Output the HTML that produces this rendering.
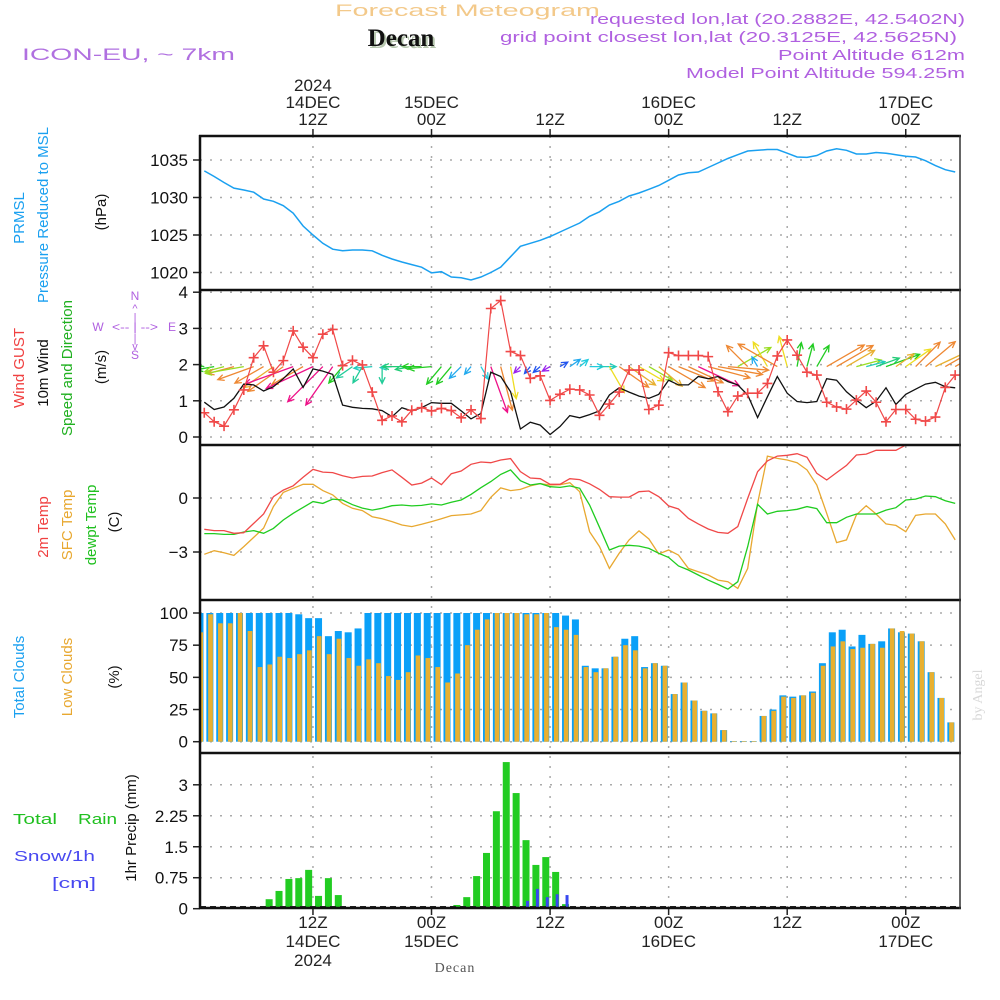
<!DOCTYPE html>
<html><head><meta charset="utf-8"><title>Forecast Meteogram - Decan</title>
<style>
html,body{margin:0;padding:0;background:#fff;}
svg{display:block;font-family:"Liberation Sans",sans-serif;}
</style></head>
<body>
<svg id="chart" width="1000" height="1000" viewBox="0 0 1000 1000" xmlns="http://www.w3.org/2000/svg">
<defs>
<clipPath id="cp"><rect x="200" y="136" width="760" height="154"/></clipPath>
<clipPath id="cw"><rect x="200" y="290" width="760" height="155"/></clipPath>
<clipPath id="ct"><rect x="200" y="445" width="760" height="155"/></clipPath>
<clipPath id="cc"><rect x="200" y="600" width="760" height="153"/></clipPath>
<clipPath id="cr"><rect x="200" y="753" width="760" height="155"/></clipPath>
</defs>
<!-- header -->
<text x="335" y="16" textLength="265" lengthAdjust="spacingAndGlyphs" font-size="17" fill="#f3c98a">Forecast Meteogram</text>
<text x="403" y="48" text-anchor="middle" font-family="Liberation Serif, serif" font-weight="bold" font-size="25" fill="#b8c8b0">Decan</text>
<text x="401" y="46" text-anchor="middle" font-family="Liberation Serif, serif" font-weight="bold" font-size="25" fill="#111">Decan</text>
<text x="22" y="60" textLength="213" lengthAdjust="spacingAndGlyphs" font-size="17" fill="#b070e0">ICON-EU, ~ 7km</text>
<text x="590" y="24" textLength="375" lengthAdjust="spacingAndGlyphs" font-size="15" fill="#b060e0">requested lon,lat (20.2882E, 42.5402N)</text>
<text x="500" y="42" textLength="457" lengthAdjust="spacingAndGlyphs" font-size="15" fill="#b060e0">grid point closest lon,lat (20.3125E, 42.5625N)</text>
<text x="778" y="60" textLength="187" lengthAdjust="spacingAndGlyphs" font-size="15" fill="#b060e0">Point Altitude 612m</text>
<text x="686" y="78" textLength="279" lengthAdjust="spacingAndGlyphs" font-size="15" fill="#b060e0">Model Point Altitude 594.25m</text>

<!-- left labels -->
<g font-size="15">
<text transform="translate(24,218) rotate(-90)" text-anchor="middle" fill="#1aa0f0">PRMSL</text>
<text transform="translate(48,215) rotate(-90)" text-anchor="middle" fill="#1aa0f0">Pressure Reduced to MSL</text>
<text transform="translate(106,212) rotate(-90)" text-anchor="middle" fill="#111">(hPa)</text>
<text transform="translate(24,368) rotate(-90)" text-anchor="middle" fill="#f04040">Wind GUST</text>
<text transform="translate(48,373) rotate(-90)" text-anchor="middle" fill="#111">10m Wind</text>
<text transform="translate(72,368) rotate(-90)" text-anchor="middle" fill="#20b020">Speed and Direction</text>
<text transform="translate(106,367) rotate(-90)" text-anchor="middle" fill="#111">(m/s)</text>
<text transform="translate(48,527) rotate(-90)" text-anchor="middle" fill="#f04040">2m Temp</text>
<text transform="translate(72,525) rotate(-90)" text-anchor="middle" fill="#e8a830">SFC Temp</text>
<text transform="translate(96,525) rotate(-90)" text-anchor="middle" fill="#20c020">dewpt Temp</text>
<text transform="translate(119,522) rotate(-90)" text-anchor="middle" fill="#111">(C)</text>
<text transform="translate(24,677) rotate(-90)" text-anchor="middle" fill="#1aa0f0">Total Clouds</text>
<text transform="translate(72,677) rotate(-90)" text-anchor="middle" fill="#e8a830">Low Clouds</text>
<text transform="translate(119,677) rotate(-90)" text-anchor="middle" fill="#111">(%)</text>
<text transform="translate(136,828) rotate(-90)" text-anchor="middle" fill="#111">1hr Precip (mm)</text>
</g>
<text x="13" y="824" textLength="44" lengthAdjust="spacingAndGlyphs" font-size="15" fill="#20c020">Total</text>
<text x="78" y="824" textLength="39" lengthAdjust="spacingAndGlyphs" font-size="15" fill="#20c020">Rain</text>
<text x="14" y="861" textLength="81" lengthAdjust="spacingAndGlyphs" font-size="15" fill="#4848f0">Snow/1h</text>
<text x="52" y="888" textLength="44" lengthAdjust="spacingAndGlyphs" font-size="15" fill="#4848f0">[cm]</text>
<g fill="#b060e0" stroke="none" font-size="12">
<text x="135" y="300" text-anchor="middle">N</text>
<text x="135" y="359" text-anchor="middle">S</text>
<text x="98" y="331" text-anchor="middle">W</text>
<text x="172" y="331" text-anchor="middle">E</text>
<text x="112" y="331" textLength="46" lengthAdjust="spacingAndGlyphs" font-size="12">&lt;-- | --&gt;</text>
<text x="135" y="312" text-anchor="middle" font-size="11">^</text>
<text x="135" y="321" text-anchor="middle" font-size="11">|</text>
<text x="135" y="342" text-anchor="middle" font-size="11">|</text>
<text x="135" y="350" text-anchor="middle" font-size="11">v</text>
</g>
<text transform="translate(982,695) rotate(-90)" text-anchor="middle" font-family="Liberation Serif, serif" font-size="14" fill="#d8d8d8">by Angel</text>
<text x="455" y="972" text-anchor="middle" font-family="Liberation Serif, serif" font-size="14" fill="#555" letter-spacing="1">Decan</text>

<g id="grid"></g>
<g id="data"></g>
<g id="frame"></g>
</svg>
<script>
// ---- data (hourly from h=1, hours since 00Z 14 DEC 2024) ----
var pressure = [1033.55,1032.8,1032.0,1031.26,1031.0,1030.7,1029.8,1029.5,1028.9,1027.9,1026.2,1025.0,1023.9,1023.1,1022.9,1023.0,1023.0,1022.9,1022.3,1021.8,1021.4,1021.05,1020.7,1019.95,1020.1,1019.4,1019.3,1019.0,1019.4,1020.0,1020.7,1022.1,1023.5,1023.9,1024.3,1024.8,1025.4,1026.0,1026.6,1027.5,1028.1,1029.0,1029.5,1030.2,1030.6,1031.1,1031.6,1032.3,1033.0,1033.3,1033.4,1034.0,1034.6,1035.2,1035.7,1036.2,1036.3,1036.4,1036.4,1035.9,1035.4,1035.35,1035.6,1036.2,1036.5,1036.3,1035.8,1035.8,1036.0,1035.9,1035.7,1035.5,1035.4,1034.9,1034.25,1033.7,1033.4];
var windGust = [0.67,0.42,0.30,0.75,1.30,2.19,2.52,1.79,2.11,2.93,2.48,2.19,2.84,2.97,1.97,2.12,1.99,1.24,0.46,0.58,0.42,0.74,0.81,0.72,0.79,0.73,0.53,0.75,0.51,3.55,3.77,2.36,2.25,1.62,1.69,1.01,1.18,1.32,1.30,1.16,0.60,0.91,1.24,1.85,1.85,0.76,0.88,2.33,2.25,2.25,2.25,2.22,1.25,0.70,1.13,1.21,1.21,1.48,2.24,2.68,2.26,1.79,1.71,0.96,0.83,0.77,1.02,1.27,0.96,0.42,0.76,0.76,0.49,0.44,0.55,1.37,1.71];
var wind10m = [0.96,0.76,0.83,1.07,1.46,1.44,1.27,1.39,1.61,1.88,1.37,1.88,1.82,1.73,0.88,0.82,0.79,0.78,0.73,0.56,0.81,0.72,0.81,0.95,0.93,0.93,0.72,0.50,0.65,1.79,1.67,1.25,0.22,0.41,0.33,0.07,0.29,0.59,0.53,0.62,0.72,1.16,1.36,1.24,1.13,1.07,1.18,1.57,1.44,1.44,1.67,1.61,1.67,1.53,1.44,1.16,0.54,1.11,1.67,1.21,0.98,0.95,0.98,1.61,1.57,1.25,1.02,0.81,0.99,1.36,0.90,1.18,1.32,1.46,1.51,1.39,1.36];
var windBearing = [280,260,255,255,260,250,240,235,235,250,240,245,225,215,220,235,210,265,180,265,270,260,270,265,220,220,225,220,150,160,165,170,225,220,230,240,60,55,50,90,90,150,125,125,120,120,130,120,112,115,115,105,100,95,60,315,330,330,300,345,10,15,30,60,60,60,75,75,70,70,55,55,45,50,65,60,60];
var windColor = ['#22cc22','#22cc22','#99dd22','#ee8833','#99dd22','#ee8833','#ee8833','#e8b030','#ee8833','#ee1188','#ee8833','#ee1188','#ee1188','#ee1188','#22cc22','#22cc99','#22cc99','#22ccbb','#22cc99','#22ccbb','#22cc77','#22cc77','#22cc22','#22cc22','#22cc22','#22cc22','#22aaee','#22aaee','#22ccdd','#ee1188','#ee8833','#eedd22','#9922ee','#2255ee','#2255ee','#9922ee','#2255ee','#22aaee','#22ccdd','#22ccdd','#22ccbb','#eedd22','#ee8833','#e8b030','#eedd22','#99dd22','#e8b030','#ee8833','#ee8833','#ee8833','#ee1188','#ee8833','#ee8833','#ee8833','#99dd22','#ee8833','#22aaee','#eedd22','#ee8833','#eedd22','#22cc22','#22cc22','#22cc22','#ee8833','#ee8833','#e8b030','#99dd22','#22ccbb','#22cc77','#22cc22','#e8b030','#eedd22','#ee8833','#ee8833','#e8b030','#ee8833','#ee8833'];
var temp2m = [-1.74,-1.81,-1.81,-1.96,-1.93,-1.41,-0.89,0.07,0.44,0.68,1.15,1.59,1.44,1.41,1.24,1.11,1.2,1.22,1.41,1.56,1.15,0.72,0.83,1.11,0.74,1.35,1.5,1.87,2.0,1.96,2.11,2.19,1.46,1.11,1.07,0.76,0.76,1.07,1.02,0.79,0.48,0.07,0.05,0.05,0.35,0.39,0.07,-0.44,-0.61,-1.13,-1.44,-1.72,-1.91,-1.96,-1.59,-0.02,1.46,2.06,2.33,2.37,2.46,2.26,1.37,1.0,1.41,1.81,2.39,2.44,2.65,2.65,2.65,2.94,3.1,3.15,3.2,3.2,3.25];
var tempSfc = [-3.13,-2.93,-3.04,-3.19,-2.70,-2.19,-1.67,-0.48,0.31,0.54,0.76,0.76,0.41,0.17,-0.30,-0.57,-0.70,-1.04,-1.15,-1.31,-1.50,-1.59,-1.46,-1.31,-1.15,-0.98,-0.94,-0.89,-0.70,0.04,0.56,0.41,0.48,0.67,0.80,0.72,0.74,0.85,0.35,-1.87,-2.70,-3.91,-3.07,-2.33,-1.83,-2.28,-3.11,-2.89,-3.17,-3.91,-4.1,-4.28,-4.56,-4.65,-5.02,-3.91,-0.30,2.33,2.2,2.11,1.96,1.56,0.72,-0.85,-2.48,-2.33,-0.94,-0.43,-0.89,-1.44,-1.52,-1.87,-0.96,-0.89,-0.89,-1.44,-2.33];
var dewpoint = [-1.98,-1.98,-2.02,-2.02,-1.89,-1.81,-1.96,-1.69,-1.22,-0.85,-0.52,-0.20,-0.30,-0.06,-0.11,-0.37,-0.56,-0.67,-0.57,-0.43,-0.39,-0.44,-0.41,-0.33,-0.39,-0.24,-0.11,0.20,0.57,0.91,1.31,1.56,0.96,0.72,0.80,0.63,0.59,0.67,0.54,-0.39,-1.63,-2.89,-2.67,-2.63,-2.67,-2.80,-3.07,-3.30,-3.78,-4.0,-4.28,-4.56,-4.80,-5.06,-4.65,-2.70,-0.35,-0.89,-0.74,-0.70,-0.63,-0.48,-0.59,-1.37,-1.37,-1.07,-0.89,-0.89,-0.89,-0.67,-0.54,-0.11,-0.06,0.11,0.07,-0.15,-0.30];
var totalClouds = [100,100,100,100,100,100,100,100,100,100,99,96,96,82,86,85,88,100,100,100,100,100,100,100,100,100,100,100,100,100,100,100,100,100,100,100,100,98,95,59,57,57,66,80,82,58,61,59,37,46,32,24,22,9,0.5,0.5,0.5,20,25,36,35,36,39,61,85,87,74,83,76,78,88,85,84,78,54,34,15];
var lowClouds = [85,99,92,92,100,86,58,60,66,65,68,71,82,68,80,65,59,64,61,51,48,54,67,65,58,46,53,75,87,95,100,100,100,99,99,100,89,87,83,58,54,57,66,75,71,57,61,59,37,46,32,24,22,9,0.5,0.5,0.5,20,24,35,34,36,38,59,74,78,72,73,76,73,88,86,84,78,54,34,15];
var rain = [0,0,0,0,0,0,0,0.23,0.43,0.72,0.74,0.94,0.31,0.74,0.33,0,0,0,0,0,0,0,0,0,0,0,0.09,0.28,0.79,1.35,2.36,3.55,2.8,1.66,1.06,1.25,0.89,0.11,0,0,0,0,0,0,0,0,0,0,0,0,0,0,0,0,0,0,0,0,0,0,0,0,0,0,0,0,0,0,0,0,0,0,0,0,0,0,0];
var snow = [0,0,0,0,0,0,0,0,0,0,0,0,0,0,0,0,0,0,0,0,0,0,0,0,0,0,0,0,0,0,0,0,0,0.19,0.48,0.28,0.35,0.33,0,0,0,0,0,0,0,0,0,0,0,0,0,0,0,0,0,0,0,0,0,0,0,0,0,0,0,0,0,0,0,0,0,0,0,0,0,0,0];
var pressureTicks = [1035,1030,1025,1020];
var windTicks = [0,1,2,3,4];
var tempTicks = [0,-3];
var cloudTicks = [0,25,50,75,100];
var precipTicks = ['0','0.75','1.5','2.25','3'];
var timeHours = [12,24,36,48,60,72];
var topLabels = [['2024','14DEC','12Z'],['15DEC','00Z'],['12Z'],['16DEC','00Z'],['12Z'],['17DEC','00Z']];
var bottomLabels = [['12Z','14DEC','2024'],['00Z','15DEC'],['12Z'],['00Z','16DEC'],['12Z'],['00Z','17DEC']];

// ---- scales ----
function xH(h){return 194.4+9.88*h;}
function yP(v){return 160+(1035-v)*7.5;}
function yW(v){return 437-v*36.2;}
function yT(v){return 498-v*18;}
function yC(v){return 741.7-v*1.287;}
function yR(v){return 908.7-v*41.3;}

var NS='http://www.w3.org/2000/svg';
function mk(parent,tag,attrs){var e=document.createElementNS(NS,tag);for(var k in attrs)e.setAttribute(k,attrs[k]);parent.appendChild(e);return e;}
var grid=document.getElementById('grid'), data=document.getElementById('data'), frame=document.getElementById('frame');

// grid
function hgrid(y,name){var l=mk(grid,'line',{x1:200,x2:960,y1:y,y2:y,stroke:'#aaa','stroke-width':1.5,'stroke-dasharray':'2,8'});

}
function ytick(y,label,name){
var t=mk(frame,'line',{x1:193,x2:200,y1:y,y2:y,stroke:'#222','stroke-width':1.5});


var tx=mk(frame,'text',{x:188,y:y+6,'text-anchor':'end','font-size':17,fill:'#111'});tx.textContent=label;

}
pressureTicks.forEach(function(v){hgrid(yP(v),'pressure-gridline');ytick(yP(v),String(v),'pressure-axis');});
windTicks.forEach(function(v){hgrid(yW(v),'wind-gridline');ytick(yW(v),String(v),'wind-axis');});
tempTicks.forEach(function(v){hgrid(yT(v),'temp-gridline');ytick(yT(v),v<0?'\u2212'+Math.abs(v):String(v),'temp-axis');});
cloudTicks.forEach(function(v){hgrid(yC(v),'cloud-gridline');ytick(yC(v),String(v),'cloud-axis');});
precipTicks.forEach(function(s){var v=parseFloat(s);if(v>0)hgrid(yR(v),'precip-gridline');ytick(yR(v),s,'precip-axis');});
timeHours.forEach(function(h,i){
var x=xH(h);
var g=mk(grid,'line',{x1:x,x2:x,y1:136,y2:908,stroke:'#aaa','stroke-width':1.5,'stroke-dasharray':'2,8'});


var t1=mk(frame,'line',{x1:x,x2:x,y1:129,y2:136,stroke:'#222','stroke-width':1.5});


var t2=mk(frame,'line',{x1:x,x2:x,y1:908,y2:915,stroke:'#222','stroke-width':1.5});


var tl=topLabels[i];
tl.forEach(function(s,j){var y=125-(tl.length-1-j)*17;var t=mk(frame,'text',{x:x,y:y,'text-anchor':'middle','font-size':17,fill:'#222'});t.textContent=s;

});
bottomLabels[i].forEach(function(s,j){var t=mk(frame,'text',{x:x,y:928+j*19,'text-anchor':'middle','font-size':17,fill:'#222'});t.textContent=s;

});
});

function linePts(arr,ys){return arr.map(function(v,i){return xH(i+1).toFixed(1)+','+ys(v).toFixed(1);}).join(' ');}
// pressure
var gp=mk(data,'g',{'clip-path':'url(#cp)'});
var pl=mk(gp,'polyline',{points:linePts(pressure,yP),fill:'none',stroke:'#1aa0f0','stroke-width':1.5});



// wind
var gw=mk(data,'g',{'clip-path':'url(#cw)'});
windBearing.forEach(function(b,i){
var s=wind10m[i];var L=Math.max(9,30*s-5);var r=b*Math.PI/180;
var x0=xH(i+1),y0=yW(2)+2;var x1=x0+L*Math.sin(r),y1=y0-L*Math.cos(r);
var a1=r+Math.PI-0.45,a2=r+Math.PI+0.45;
var g=mk(gw,'path',{d:'M'+x0+','+y0+'L'+x1+','+y1+'M'+(x1+7*Math.sin(a1))+','+(y1-7*Math.cos(a1))+'L'+x1+','+y1+'L'+(x1+7*Math.sin(a2))+','+(y1-7*Math.cos(a2)),fill:'none',stroke:windColor[i],'stroke-width':1.3});


});
var wl=mk(gw,'polyline',{points:linePts(wind10m,yW),fill:'none',stroke:'#111','stroke-width':1.3});


var gl=mk(gw,'polyline',{points:linePts(windGust,yW),fill:'none',stroke:'#f04848','stroke-width':1.2});


windGust.forEach(function(v,i){var x=xH(i+1),y=yW(v);
var m=mk(gw,'path',{d:'M'+(x-5)+','+y+'h10M'+x+','+(y-5)+'v10',stroke:'#f04848','stroke-width':1.6});

});

// temperature
var gt=mk(data,'g',{'clip-path':'url(#ct)'});
var l1=mk(gt,'polyline',{points:linePts(tempSfc,yT),fill:'none',stroke:'#e8a830','stroke-width':1.3});


var l2=mk(gt,'polyline',{points:linePts(dewpoint,yT),fill:'none',stroke:'#20cc20','stroke-width':1.3});


var l3=mk(gt,'polyline',{points:linePts(temp2m,yT),fill:'none',stroke:'#f04848','stroke-width':1.3});



// clouds
var gc=mk(data,'g',{'clip-path':'url(#cc)'});
totalClouds.forEach(function(v,i){var cx=xH(i+1)-4.3;
var b=mk(gc,'rect',{x:cx-3.5,y:yC(v),width:7,height:yC(0)-yC(v),fill:'#0aa0f8'});


var lv=lowClouds[i];
var o=mk(gc,'rect',{x:cx-1.7,y:yC(lv),width:4.7,height:yC(0)-yC(lv),fill:'#e8b030'});

});

// precip
var gr=mk(data,'g',{'clip-path':'url(#cr)'});
rain.forEach(function(v,i){var cx=xH(i+1)-4.3;
if(v>0){var b=mk(gr,'rect',{x:cx-3.5,y:yR(v),width:7,height:yR(0)-yR(v),fill:'#22cc22'});

}
var sv=snow[i];
if(sv>0){var s=mk(gr,'rect',{x:cx,y:yR(sv),width:3,height:yR(0)-yR(sv),fill:'#3848f0'});

}});
var base=mk(gr,'line',{x1:200,x2:960,y1:907,y2:907,stroke:'#222','stroke-width':2,'stroke-dasharray':'6,4'});



// frame
[136,290,445,600,753,908].forEach(function(y){var l=mk(frame,'line',{x1:199,x2:961,y1:y,y2:y,stroke:'#111','stroke-width':2.5});

});
var la=mk(frame,'line',{x1:200,x2:200,y1:135,y2:909,stroke:'#111','stroke-width':2.5});


var ra=mk(frame,'line',{x1:960,x2:960,y1:135,y2:909,stroke:'#333','stroke-width':1.5});


</script>
</body></html>
